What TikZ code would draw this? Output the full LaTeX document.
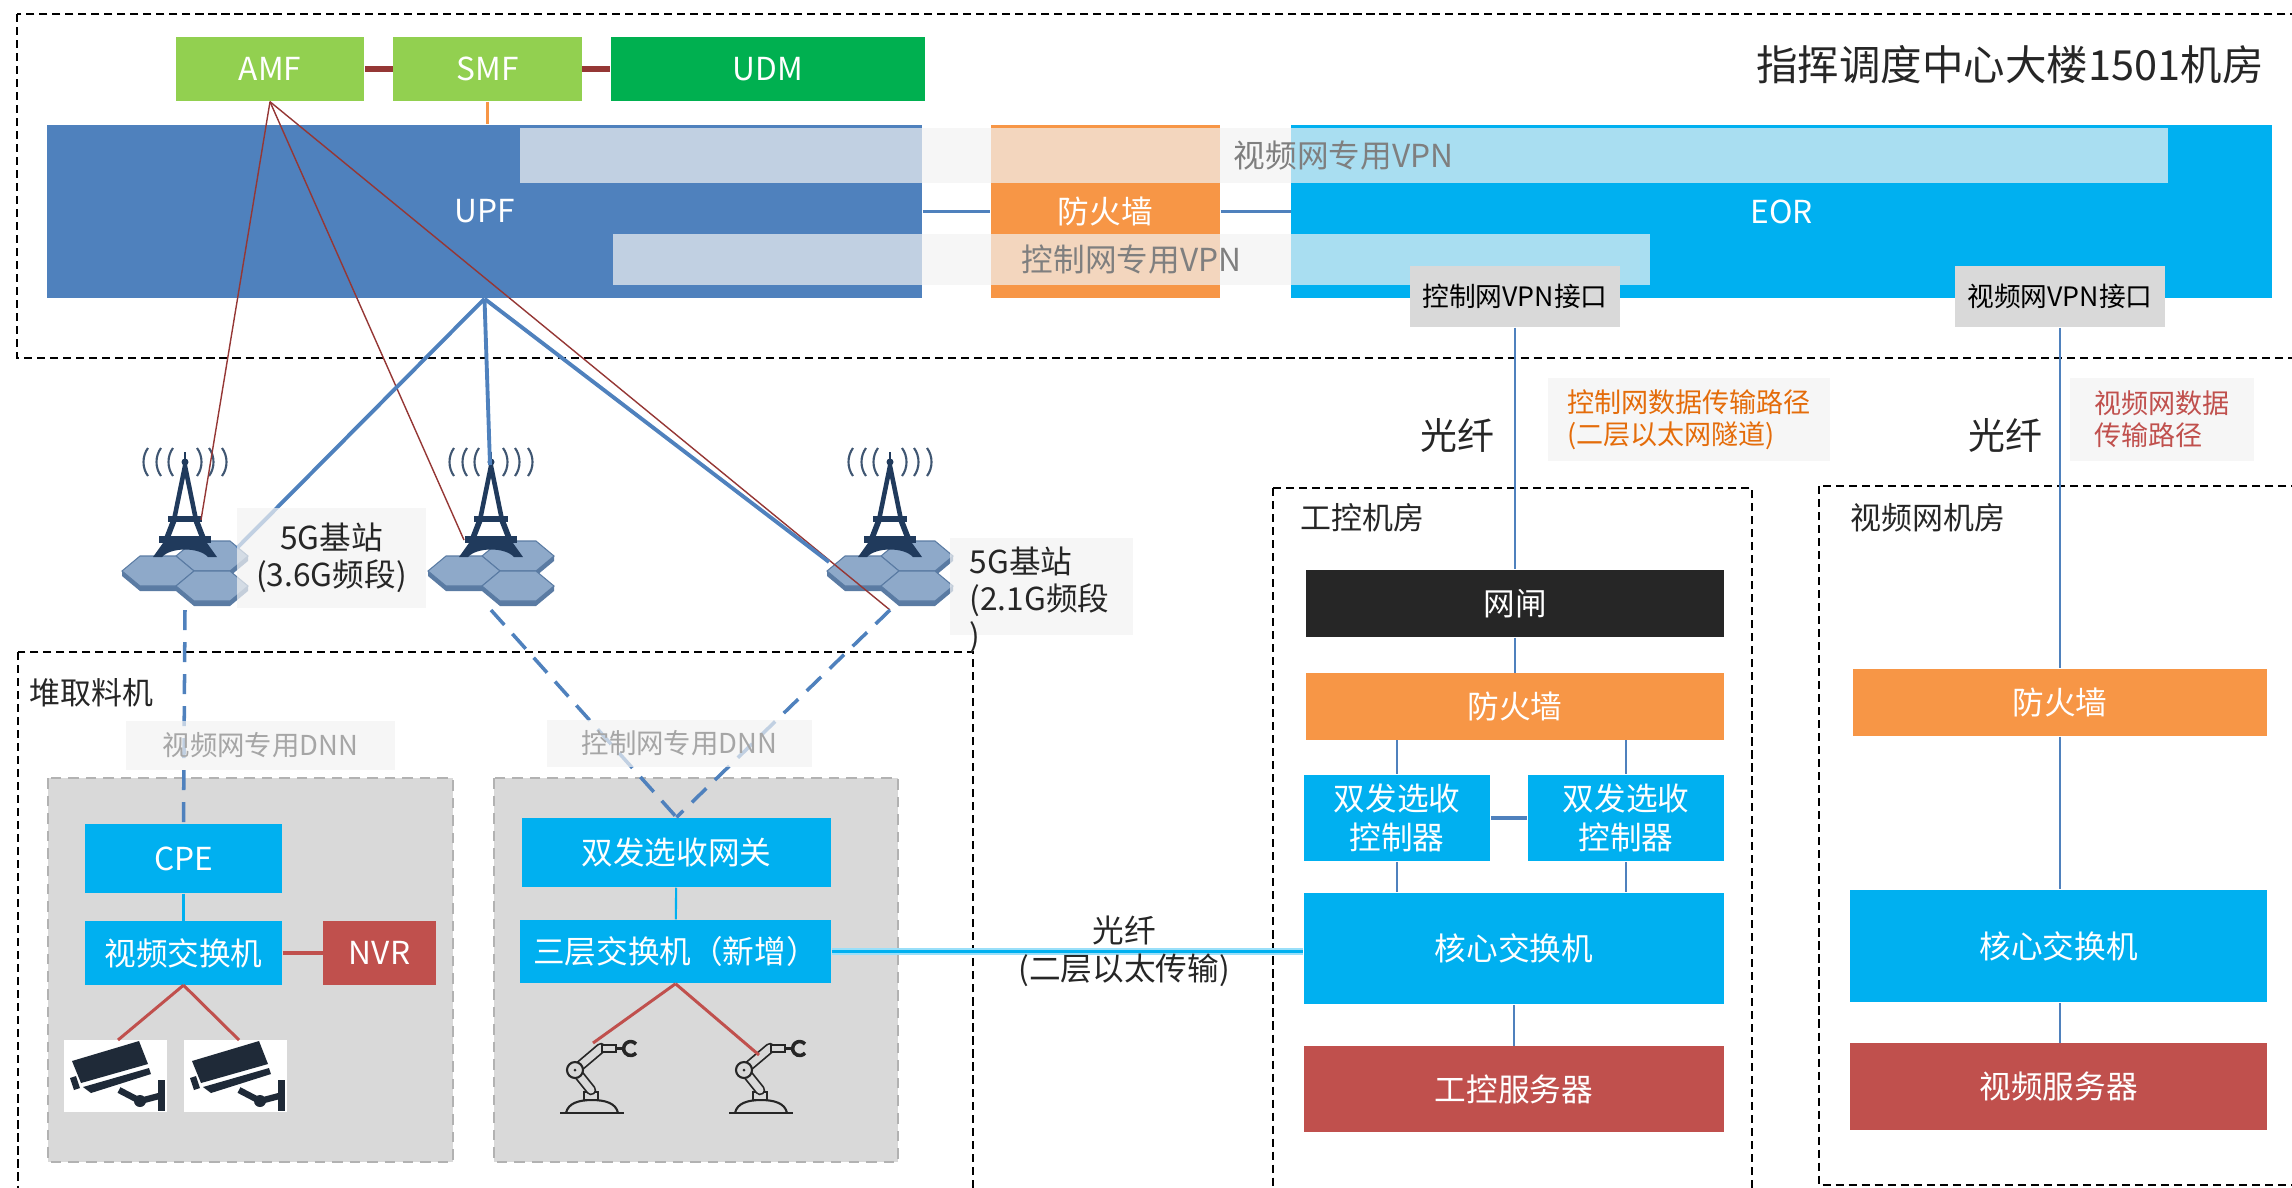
\documentclass[tikz,border=0pt]{standalone}
\usepackage{fontspec}
\setmainfont{Noto Sans CJK SC}
\usepackage{tikz}
\usetikzlibrary{positioning}

\definecolor{nfgreen}{HTML}{92D050}
\definecolor{udmgreen}{HTML}{00B050}
\definecolor{upfblue}{HTML}{4F81BD}
\definecolor{fworange}{HTML}{F79646}
\definecolor{skyblue}{HTML}{00B0F0}
\definecolor{gapblack}{HTML}{262626}
\definecolor{srvred}{HTML}{C0504D}
\definecolor{darkred}{HTML}{953735}
\definecolor{panelgrey}{HTML}{D9D9D9}
\definecolor{veilgrey}{HTML}{F2F2F2}
\definecolor{textgrey}{HTML}{7F7F7F}
\definecolor{pathorange}{HTML}{E46C0A}
\definecolor{navy}{HTML}{203A5C}
\definecolor{cellfill}{HTML}{8EA9C9}
\definecolor{celledge}{HTML}{5A7BA3}
\definecolor{camdark}{HTML}{1F2A38}

\newcommand{\boxfont}{\fontsize{9}{11}\selectfont}
\newcommand{\tagfont}{\fontsize{7.6}{9}\selectfont}
\newcommand{\titlefont}{\fontsize{11.8}{14}\selectfont}
\newcommand{\labfont}{\fontsize{9}{10.5}\selectfont}
\newcommand{\pathfont}{\fontsize{7.7}{9.1}\selectfont}
\newcommand{\fibfont}{\fontsize{10.5}{12}\selectfont}

\begin{document}
\begin{tikzpicture}[x=0.01cm, y=-0.01cm,
  box/.style={inner sep=0pt, align=center, text=white, font=\boxfont},
  nf/.style={box, fill=nfgreen, minimum width=1.88cm, minimum height=0.64cm},
  sky/.style={box, fill=skyblue},
  fw/.style={box, fill=fworange},
  srv/.style={box, fill=srvred},
  veil/.style={fill=veilgrey, fill opacity=0.7, text opacity=1, inner sep=0pt},
  tag/.style={fill=panelgrey, inner sep=0pt, minimum width=2.10cm, minimum height=0.61cm, font=\tagfont},
  roomlabel/.style={anchor=west, inner sep=0pt, font=\fontsize{8.8}{10}\selectfont, text=black!85},
  room/.style={draw=black, line width=0.6pt, dash pattern=on 2.3pt off 1.4pt},
  panel/.style={fill=panelgrey, draw=black!30, line width=0.6pt, dash pattern=on 3pt off 2pt},
  link/.style={upfblue, line width=0.7pt},
  radio/.style={upfblue, line width=1.1pt},
  air/.style={upfblue, line width=1pt, dash pattern=on 5.7pt off 3.4pt},
  ctrl/.style={darkred, line width=0.4pt},
  lan/.style={srvred, line width=0.85pt},
  robc/.style={draw=black!85, line width=0.6pt},
  % base station: three cells and a mast
  bts/.pic={
    \foreach \hx/\hy in {27/26,-27/41,27/56}{
      \fill[celledge] (\hx-36,\hy) -- (\hx-18,\hy+15) -- (\hx+18,\hy+15) -- (\hx+36,\hy)
        -- (\hx+36,\hy+5) -- (\hx+18,\hy+20) -- (\hx-18,\hy+20) -- (\hx-36,\hy+5) -- cycle;
      \filldraw[fill=cellfill, draw=celledge, line width=0.3pt] (\hx-36,\hy) -- (\hx-18,\hy-15)
        -- (\hx+18,\hy-15) -- (\hx+36,\hy) -- (\hx+18,\hy+15) -- (\hx-18,\hy+15) -- cycle;
    }
    \draw[navy, line width=1.3pt] (-11,-10) -- (0,-64) -- (11,-10);
    \draw[navy, line width=1.6pt] (-11,-10) -- (-18,8) (11,-10) -- (18,8);
    \fill[navy] (-17,-14) rectangle (17,-8);
    \fill[navy] (-26,6) rectangle (26,13);
    \fill[navy] (-22,13) -- (-32,27) -- (-23,27) .. controls (-14,17) and (14,17) .. (23,27)
      -- (32,27) -- (22,13) -- cycle;
    \draw[navy, line width=0.8pt] (0,-64) -- (0,-78);
    \fill[navy] (0,-68) circle (3.5);
    \foreach \d in {12,24,37}{
      \draw[celledge!70!black, line width=0.6pt] (-\d,-82) .. controls (-\d-6,-74) and (-\d-6,-62) .. (-\d,-54);
      \draw[celledge!70!black, line width=0.6pt] (\d,-82) .. controls (\d+6,-74) and (\d+6,-62) .. (\d,-54);
    }
  },
  % camera on a white tile
  cam/.pic={
    \fill[white] (0,0) rectangle (103,72);
    \fill[camdark] (8,21) -- (75,1) -- (84,24) -- (17,43) -- cycle;
    \fill[camdark] (19,47) -- (85,28) -- (87,34) -- (27,53) -- cycle;
    \fill[camdark] (6,38) -- (12,36) -- (16,48) -- (10,50) -- cycle;
    \draw[camdark, line width=1.8pt] (55,50) -- (76,61) -- (95,56);
    \fill[camdark] (76,61) circle (6);
    \fill[camdark] (94,40) rectangle (101,71);
  },
  % robot arm
  robot/.pic={
    \draw[robc] (-1,73) -- (63,73);
    \draw[robc] (5,73) .. controls (7,63) and (18,60) .. (31,60) .. controls (44,60) and (55,63) .. (57,73);
    \draw[robc, fill=panelgrey] (23,52) rectangle (37,60);
    \draw[robc, line width=0.5pt, double=panelgrey, double distance=2pt, line cap=round] (30,50) -- (14,30);
    \draw[robc, line width=0.5pt, double=panelgrey, double distance=2pt, line cap=round] (14,30) -- (40,8);
    \filldraw[robc, fill=panelgrey] (14,30) circle (8);
    \fill[black!85] (14,30) circle (1.5);
    \draw[robc, fill=panelgrey] (41,5) rectangle (55,12);
    \draw[robc] (55,8.5) -- (62,8.5);
    \draw[robc, line width=1pt] (75,4) arc[start angle=-40, end angle=-320, radius=7];
  }]

  \useasboundingbox (0,0) rectangle (2292,1187);

  % building 1501
  \draw[room] (17,14) rectangle (2310,358);
  \node[font=\titlefont, text=black!85] (title) at (2010,65) {指挥调度中心大楼1501机房};

  \node[nf] (amf) at (270,69) {AMF};
  \node[nf, right=0.28cm of amf] (smf) {SMF};
  \node[box, fill=udmgreen, minimum width=3.14cm, minimum height=0.64cm, right=0.28cm of smf] (udm) {UDM};
  \draw[darkred, line width=1.5pt] (amf) -- (smf);
  \draw[darkred, line width=1.5pt] (smf) -- (udm);

  \node[box, fill=upfblue, minimum width=8.75cm, minimum height=1.73cm] (upf) at (484.5,211.5) {UPF};
  \node[fw, minimum width=2.29cm, minimum height=1.73cm, right=0.67cm of upf] (fwtop) {防火墙};
  \node[sky, minimum width=9.80cm, minimum height=1.73cm, right=0.70cm of fwtop] (eor) {EOR};
  \draw[fworange, line width=0.6pt] (smf.south) -- (smf.south |- upf.north);
  \draw[link, line width=1pt] (upf) -- (fwtop);
  \draw[link, line width=1pt] (fwtop) -- (eor);

  % VPN bands across UPF, firewall and EOR
  \node[veil, minimum width=16.47cm, minimum height=0.55cm, text=textgrey, font=\boxfont] (vpnv) at (1343.5,155.5) {视频网专用VPN};
  \node[veil, minimum width=10.37cm, minimum height=0.51cm, text=textgrey, font=\boxfont] (vpnc) at (1131.5,259.5) {控制网专用VPN};

  \node[tag] (ifc) at (1515,296.5) {控制网VPN接口};
  \node[tag] (ifv) at (2060,296.5) {视频网VPN接口};

  % stacker-reclaimer
  \draw[room] (18,652) rectangle (973,1210);
  \node[roomlabel] (sr) at (29,693) {堆取料机};
  \draw[panel] (48,778) rectangle (453,1162);
  \draw[panel] (494,778) rectangle (898,1162);

  \node[sky, minimum width=1.97cm, minimum height=0.69cm] (cpe) at (183.5,858.5) {CPE};
  \node[sky, minimum width=1.97cm, minimum height=0.63cm, below=0.27cm of cpe] (vsw) {视频交换机};
  \node[srv, minimum width=1.12cm, minimum height=0.63cm, right=0.40cm of vsw] (nvr) {NVR};
  \node[sky, minimum width=3.09cm, minimum height=0.69cm] (gw) at (676.5,852.5) {双发选收网关};
  \node[sky, minimum width=3.11cm, minimum height=0.63cm] (l3sw) at (675.5,951.5) {三层交换机（新增）};

  \pic (cam1) at (64,1040) {cam};
  \pic (cam2) at (184,1040) {cam};
  \pic (rob1) at (561,1040) {robot};
  \pic (rob2) at (730,1040) {robot};
  \coordinate (cam1top) at (118,1040);
  \coordinate (cam2top) at (239,1040);
  \coordinate (rob1top) at (593,1043);
  \coordinate (rob2top) at (759,1055);

  \draw[skyblue, line width=0.6pt] (cpe) -- (vsw);
  \draw[srvred, line width=1.4pt] (vsw) -- (nvr);
  \draw[skyblue, line width=0.6pt] (gw) -- (l3sw);
  \draw[lan] (vsw.south) -- (cam1top);
  \draw[lan] (vsw.south) -- (cam2top);
  \draw[lan] (l3sw.south) -- (rob1top);
  \draw[lan] (l3sw.south) -- (rob2top);

  % base stations
  \coordinate (bs1) at (185,530);
  \coordinate (bs2) at (491,530);
  \coordinate (bs3) at (890,530);
  \foreach \c in {bs1,bs2,bs3} \pic at (\c) {bts};
  \coordinate (bs1a) at (201,520);
  \coordinate (bs2a) at (464,540);
  \coordinate (bs3a) at (890,610);
  \coordinate (bs1b) at (237,548);
  \coordinate (bs2b) at (490,465);
  \coordinate (bs3b) at (829,562);
  \coordinate (bs1c) at (185,610);
  \coordinate (bs2c) at (491,610);
  \coordinate (bs3c) at (890,610);

  \draw[ctrl] (amf.south) -- (bs1a);
  \draw[ctrl] (amf.south) -- (bs2a);
  \draw[ctrl] (amf.south) -- (bs3a);
  \draw[radio] (upf.south) -- (bs1b);
  \draw[radio] (upf.south) -- (bs2b);
  \draw[radio] (upf.south) -- (bs3b);

  \draw[air] (bs1c) -- (cpe.north);
  \draw[air] (bs2c) -- (gw.north);
  \draw[air] (bs3c) -- (gw.north);

  \node[veil, minimum width=1.89cm, minimum height=1.00cm, font=\labfont, text=black!85, align=center] (bsl1) at (331.5,558) {5G基站\\(3.6G频段)};
  \node[veil, minimum width=1.83cm, minimum height=0.97cm] (bsl2) at (1041.5,586.5) {};
  \node[font=\labfont, text=black!85, align=left, anchor=west, inner sep=0pt] (bsl2t) at (969,600) {5G基站\\(2.1G频段\\)};

  \node[veil, minimum width=2.69cm, minimum height=0.49cm, font=\fontsize{7.8}{9}\selectfont, text=black!35] (dnnv) at (260.5,745.5) {视频网专用DNN};
  \node[veil, minimum width=2.65cm, minimum height=0.47cm, font=\fontsize{7.8}{9}\selectfont, text=black!35] (dnnc) at (679.5,743.5) {控制网专用DNN};

  % industrial control room
  \draw[room] (1273,488) rectangle (1752,1210);
  \node[roomlabel] (icr) at (1300,518) {工控机房};
  \node[box, fill=gapblack, minimum width=4.18cm, minimum height=0.67cm] (gap) at (1515,603.5) {网闸};
  \node[fw, minimum width=4.18cm, minimum height=0.66cm, below=0.35cm of gap] (fwc) {防火墙};
  \node[sky, minimum width=1.86cm, minimum height=0.86cm] (ctla) at (1397,818) {双发选收\\控制器};
  \node[sky, minimum width=1.96cm, minimum height=0.86cm] (ctlb) at (1626,818) {双发选收\\控制器};
  \node[sky, minimum width=4.20cm, minimum height=1.11cm] (corec) at (1514,948.5) {核心交换机};
  \node[srv, minimum width=4.20cm, minimum height=0.85cm, below=0.41cm of corec] (srvc) {工控服务器};

  \draw[link] (ifc) -- (gap);
  \draw[link] (gap) -- (fwc);
  \draw[link] (ctla.north |- fwc.south) -- (ctla.north);
  \draw[link] (ctlb.north |- fwc.south) -- (ctlb.north);
  \draw[link, line width=1.4pt] (ctla) -- (ctlb);
  \draw[link] (ctla.south) -- (ctla.south |- corec.north);
  \draw[link] (ctlb.south) -- (ctlb.south |- corec.north);
  \draw[link] (corec) -- (srvc);

  % video room
  \draw[room] (1819,486) rectangle (2310,1185);
  \node[roomlabel] (vr) at (1850,518) {视频网机房};
  \node[fw, minimum width=4.14cm, minimum height=0.67cm] (fwv) at (2060,702.5) {防火墙};
  \node[sky, minimum width=4.17cm, minimum height=1.12cm] (corev) at (2058.5,946) {核心交换机};
  \node[srv, minimum width=4.17cm, minimum height=0.86cm, below=0.40cm of corev] (srvv) {视频服务器};

  \draw[link] (ifv.south) -- (ifv.south |- fwv.north);
  \draw[link] (fwv.south -| ifv.south) -- (corev.north -| ifv.south);
  \draw[link] (corev.south -| ifv.south) -- (srvv.north -| ifv.south);

  % fibre paths
  \node[font=\fibfont, text=black!85] (fib1) at (1457,435) {光纤};
  \node[font=\fibfont, text=black!85] (fib2) at (2005,435) {光纤};
  \node[veil, minimum width=2.82cm, minimum height=0.83cm, font=\pathfont, text=pathorange, align=left] (pathc) at (1689,419.5) {控制网数据传输路径\\(二层以太网隧道)};
  \node[veil, minimum width=1.84cm, minimum height=0.83cm, font=\pathfont, text=srvred, align=left] (pathv) at (2162,419.5) {视频网数据\\传输路径};

  \draw[skyblue!40, line width=1.8pt] (l3sw.east) -- (l3sw.east -| corec.west);
  \draw[skyblue, line width=0.7pt] (l3sw.east) -- node[pos=0.62, font=\fontsize{9}{10.8}\selectfont, text=black!85, align=center] (fib3) {光纤\\(二层以太传输)} (l3sw.east -| corec.west);
\end{tikzpicture}
\end{document}
